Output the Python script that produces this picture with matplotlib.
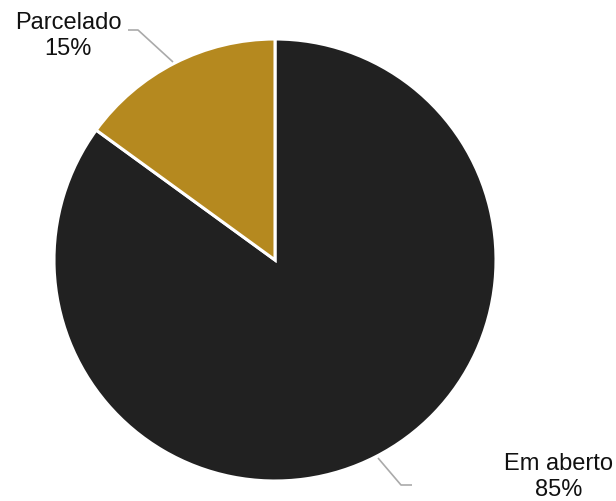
import matplotlib
matplotlib.use('Agg')
import matplotlib.pyplot as plt

# dados do gráfico
labels = ['Em aberto', 'Parcelado']
values = [85, 15]
colors = ['#212121', '#B5891F']

W, H = 616, 501
CX, CY, R = 275, 260, 221


def px(x, y):
    """pixel da imagem -> coordenadas de dados (raio 1)."""
    return (x - CX) / R, (CY - y) / R


fig = plt.figure(figsize=(W / 100, H / 100), dpi=100)
ax = fig.add_axes([(CX - R) / W, (H - CY - R) / H, 2 * R / W, 2 * R / H])

ax.pie(values, colors=colors, startangle=90, counterclock=False,
       wedgeprops=dict(edgecolor='white', linewidth=2.2))
ax.set_xlim(-1, 1)
ax.set_ylim(-1, 1)
ax.set_aspect('equal')
ax.axis('off')

# linhas-guia e rótulos
guides = {
    'Parcelado': [(173, 62), (138, 30), (128, 30)],
    'Em aberto': [(378, 458), (401, 485), (412, 485)],
}
text_pos = {
    'Parcelado': (68, 36),
    'Em aberto': (559, 477),
}

for lab, val in zip(labels, values):
    pts = [px(*p) for p in guides[lab]]
    ax.plot([p[0] for p in pts], [p[1] for p in pts], color='#aaaaaa',
            linewidth=1.2, clip_on=False, solid_capstyle='butt')
    tx, ty = px(*text_pos[lab])
    ax.text(tx, ty, f'{lab}\n{val}%', ha='center', va='center',
            fontsize=17, family='Liberation Sans', color='#111111',
            linespacing=1.2, clip_on=False)

fig.savefig('out.png', dpi=100)
